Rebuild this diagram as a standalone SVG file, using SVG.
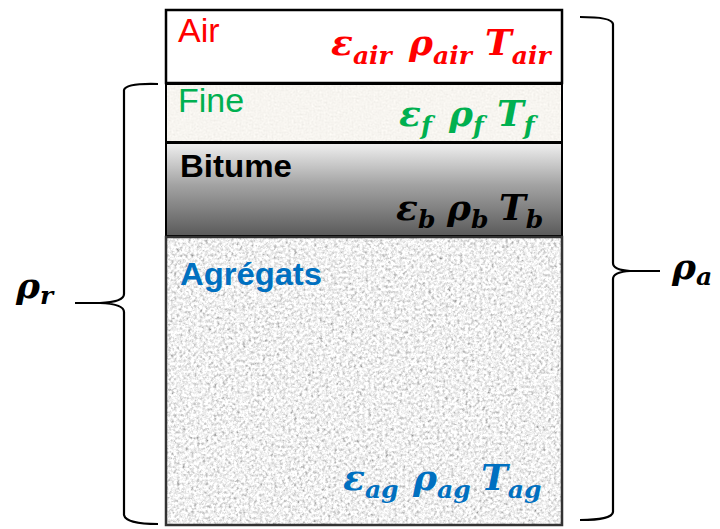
<svg xmlns="http://www.w3.org/2000/svg" width="720" height="529" viewBox="0 0 720 529">
<defs>
<filter id="granite" x="0" y="0" width="100%" height="100%" filterUnits="objectBoundingBox">
<feTurbulence type="fractalNoise" baseFrequency="0.35" numOctaves="4" seed="7"/>
<feColorMatrix type="matrix" values="0.7 0.7 0.7 0 -0.18  0.7 0.7 0.7 0 -0.18  0.7 0.7 0.7 0 -0.18  0 0 0 0 1"/>
</filter>
<filter id="sand" x="0" y="0" width="100%" height="100%" filterUnits="objectBoundingBox">
<feTurbulence type="fractalNoise" baseFrequency="0.5" numOctaves="2" seed="3"/>
<feColorMatrix type="matrix" values="0.1 0.1 0.1 0 0.78  0.1 0.1 0.1 0 0.76  0.1 0.1 0.1 0 0.72  0 0 0 0 1"/>
</filter>
<linearGradient id="bit" x1="0" y1="0" x2="0" y2="1">
<stop offset="0" stop-color="#f0f0f0"/>
<stop offset="0.45" stop-color="#a3a3a3"/>
<stop offset="1" stop-color="#5a5a5a"/>
</linearGradient>
<style>
.lbl{font-family:"Liberation Sans","Open Sans",Arial,sans-serif;font-size:34px}
.lb{font-family:"Liberation Sans","Open Sans",Arial,sans-serif;font-size:31px;font-weight:bold}
.m{font-family:"DejaVu Serif","Liberation Serif",serif;font-style:italic;font-weight:bold}
.big{font-size:36px}
.sub{font-size:25px}
.brace{fill:none;stroke:#000;stroke-width:2.2}
</style>
</defs>

<g id="air">
<rect x="166" y="10" width="396" height="73" fill="#fff" stroke="#000" stroke-width="2.5"/>
<text class="lbl" x="178" y="42" fill="#ff0000">Air</text>
<text class="m" fill="#ff0000"><tspan class="big" x="331" y="55">ε</tspan><tspan class="sub" y="64">air</tspan><tspan class="big" x="409" y="55">ρ</tspan><tspan class="sub" y="64">air</tspan><tspan class="big" x="485" y="55">T</tspan><tspan class="sub" y="64">air</tspan></text>
</g>

<g id="fine">
<rect x="166" y="84" width="396" height="58" filter="url(#sand)"/>
<rect x="166" y="84" width="396" height="58" fill="none" stroke="#000" stroke-width="2"/>
<text class="lbl" x="178" y="112" fill="#00b050">Fine</text>
<text class="m" fill="#00b050"><tspan class="big" x="399" y="126">ε</tspan><tspan class="sub" y="134">f</tspan><tspan class="big" x="449" y="126">ρ</tspan><tspan class="sub" y="134">f</tspan><tspan class="big" x="497" y="126">T</tspan><tspan class="sub" y="134">f</tspan></text>
</g>

<g id="bitume">
<rect x="166" y="143" width="396" height="93" fill="url(#bit)" stroke="#000" stroke-width="2"/>
<text class="lb" x="180" y="177" fill="#000" textLength="112" lengthAdjust="spacingAndGlyphs">Bitume</text>
<text class="m" fill="#000"><tspan class="big" x="396" y="220">ε</tspan><tspan class="sub" y="228">b</tspan><tspan class="big" x="447" y="220">ρ</tspan><tspan class="sub" y="228">b</tspan><tspan class="big" x="499" y="220">T</tspan><tspan class="sub" y="228">b</tspan></text>
</g>

<g id="agregats">
<rect x="166" y="237" width="396" height="288" filter="url(#granite)"/>
<rect x="166" y="237" width="396" height="288" fill="none" stroke="#333" stroke-width="2.5"/>
<text class="lb" x="180" y="285" fill="#0070c0" textLength="142" lengthAdjust="spacingAndGlyphs">Agrégats</text>
<text class="m" fill="#0070c0"><tspan class="big" x="343" y="490">ε</tspan><tspan class="sub" y="498">ag</tspan><tspan class="big" x="413" y="490">ρ</tspan><tspan class="sub" y="498">ag</tspan><tspan class="big" x="481" y="490">T</tspan><tspan class="sub" y="498">ag</tspan></text>
</g>

<g id="connectors">
<path class="brace" d="M158,84 Q126,83 124,90 L124,294 Q124,302 100,303 L75,303 M100,303 Q124,304 124,312 L124,515 Q126,524 158,524"/>
<path class="brace" d="M580,17 Q612,17 613,24 L613,263 Q613,270 630,271 L660,271 M630,271 Q613,272 613,279 L613,512 Q612,520 580,520"/>
</g>

<g id="rho-r">
<text class="m" x="16" y="298" font-size="36" fill="#000">ρ<tspan y="304" font-size="25">r</tspan></text>
</g>
<g id="rho-a">
<text class="m" x="672" y="279" font-size="36" fill="#000">ρ<tspan y="285" font-size="25">a</tspan></text>
</g>
</svg>
